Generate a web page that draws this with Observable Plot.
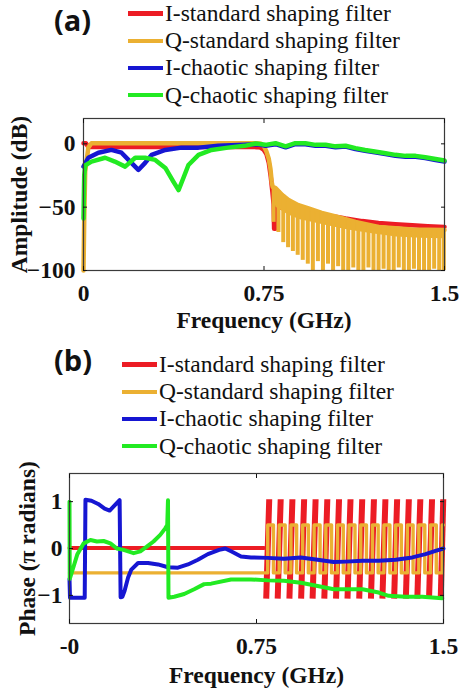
<!DOCTYPE html>
<html><head><meta charset="utf-8">
<script src="https://cdn.jsdelivr.net/npm/d3@7"></script>
<script src="https://cdn.jsdelivr.net/npm/@observablehq/plot@0.6"></script>
<style>
html,body{margin:0;padding:0;background:#fff;}
#root{position:relative;width:459px;height:691px;overflow:hidden;font-family:"Liberation Serif","Times New Roman",serif;}
.panel{position:absolute;left:0;}
.tag{position:absolute;font-family:"Open Sans",sans-serif;font-weight:700;font-size:29px;line-height:40px;color:#111;}
.legend{position:absolute;}
.row{display:flex;align-items:center;height:27.2px;font-size:23.5px;color:#111;white-space:nowrap;}
.sw{display:inline-block;width:35px;height:4.5px;margin-right:2px;}
</style></head>
<body><div id="root"></div>
<script>
// ---------- data ----------
const seriesNames = ["I-standard shaping filter", "Q-standard shaping filter", "I-chaotic shaping filter", "Q-chaotic shaping filter"];
const xTicks = [0, 0.75, 1.5];
const xTickLabelsA = ["0", "0.75", "1.5"];
const xTickLabelsB = ["-0", "0.75", "1.5"];
const yTicksA = [-100, -50, 0];
const yTicksB = [-1, 0, 1];

// (a) amplitude, [GHz, dB]
const ampIStd = [[0,0.5],[0.01,0.5],[0.02,-2.5],[0.2,-2.5],[0.4,-2.5],[0.6,-2.5],[0.72,-2.6],[0.735,-3],[0.748,-4.5],[0.76,-8],[0.77,-15],[0.778,-26],[0.785,-38],[0.79,-48],[0.792,-67],[0.797,-67],[0.80,-50],[0.85,-51],[0.92,-52],[0.99,-56],[1.06,-58],[1.089,-59],[1.158,-61],[1.226,-62.5],[1.296,-63.5],[1.366,-64.3],[1.43,-65],[1.5,-65.6]];
const ampQStd = [[0,-100],[0.003,-60],[0.007,-22],[0.02,-3],[0.033,0.5],[0.3,0.5],[0.6,0.5],[0.72,0.5],[0.738,0],[0.75,-2],[0.76,-6],[0.77,-12],[0.777,-20],[0.782,-30],[0.786,-34],[0.798,-35],[0.826,-40.5],[0.852,-44.4],[0.893,-48.4],[0.935,-51],[0.99,-54.5],[1.06,-58],[1.13,-61.7],[1.226,-65.6],[1.366,-67.7],[1.5,-68]];
// solid part of the Q-standard stop band: frequency, top, lower edge
const qStdBandF   = [0.786,0.80,0.85,0.90,0.95,1.00,1.10,1.20,1.30,1.40,1.50];
const qStdBandTop = [-34,-35.3,-44,-48.8,-52,-55,-60,-64,-66.6,-67.8,-68];
const qStdBandLow = [-40,-50,-56,-60,-62,-64,-68,-71,-73.5,-74.5,-75];
// comb notches of the Q-standard stop band: frequency, notch floor, envelope
const qStdNotchF   = [0.790,0.810,0.830,0.850,0.870,0.890,0.911,0.932,0.953,0.974,0.995,1.016,1.037,1.058,1.079,1.100,1.121,1.142,1.163,1.184,1.205,1.226,1.247,1.268,1.289,1.310,1.331,1.352,1.373,1.394,1.415,1.436,1.457,1.478,1.497];
const qStdNotchMin = [-62,-70,-78,-82,-85,-88,-92,-95,-100,-93,-100,-95,-100,-97,-100,-100,-98,-100,-100,-98,-100,-100,-99,-100,-100,-98,-100,-100,-99,-100,-100,-100,-99,-100,-100];
const qStdNotchTop = [-34,-37,-40.5,-43.5,-46,-48,-49.8,-51.3,-52.5,-53.7,-54.8,-55.8,-56.8,-57.7,-58.6,-59.5,-60.5,-61.3,-62.2,-63,-63.7,-64.4,-65,-65.6,-66.1,-66.5,-66.9,-67.2,-67.5,-67.7,-67.8,-68,-68,-68,-68];
const ampIChaos = [[0,-18],[0.02,-11],[0.062,-7],[0.116,-4.8],[0.158,-7],[0.194,-14],[0.228,-20.6],[0.256,-15],[0.283,-8.7],[0.34,-4.8],[0.407,-3],[0.478,-3],[0.56,-1.6],[0.67,-0.8],[0.727,-0.3],[0.756,-1.5],[0.798,-0.3],[0.84,-2.7],[0.88,-0.3],[0.922,-0.3],[0.964,-1.5],[1.006,-1.5],[1.047,-2.7],[1.089,-2.2],[1.13,-4.1],[1.17,-5.5],[1.21,-6.7],[1.255,-8.1],[1.296,-9.4],[1.338,-10.2],[1.38,-10.2],[1.42,-11.3],[1.463,-12.7],[1.5,-14]];
const ampQChaos = [[0,-59],[0.003,-25],[0.007,-17],[0.033,-14],[0.09,-11],[0.13,-14],[0.173,-18],[0.215,-11],[0.256,-11],[0.298,-12.7],[0.34,-19],[0.374,-30],[0.395,-36.5],[0.415,-27],[0.436,-16.7],[0.478,-8.7],[0.532,-4.8],[0.60,-3],[0.67,-1.6],[0.715,0.3],[0.756,-0.8],[0.798,0.5],[0.84,-2],[0.88,0.5],[0.922,0.5],[0.964,-0.8],[1.006,-0.8],[1.047,-2],[1.089,-1.5],[1.13,-3.4],[1.17,-4.8],[1.21,-6],[1.255,-7.4],[1.296,-8.7],[1.338,-9.5],[1.38,-9.5],[1.42,-10.6],[1.463,-12],[1.5,-13.2]];

// (b) phase, [GHz, pi rad]
const phIStd = [[0,0.01],[0.3,0.01],[0.6,0.01],[0.78,0.01]];
const phIStdBarLowF  = [0.789,0.835,0.882,0.929,0.975,1.022,1.069,1.115,1.162,1.209,1.255,1.302,1.349,1.395,1.442,1.489];
const phIStdBarHighF = [0.801,0.847,0.894,0.941,0.987,1.034,1.081,1.127,1.174,1.221,1.267,1.314,1.361,1.407,1.454,1.499];
const phQStd = [[0,-0.52],[0.795,-0.52],[0.795,0.5],[0.818,0.5],[0.818,-0.52],[0.841,-0.52],[0.841,0.5],[0.865,0.5],[0.865,-0.52],[0.888,-0.52],[0.888,0.5],[0.911,0.5],[0.911,-0.52],[0.935,-0.52],[0.935,0.5],[0.958,0.5],[0.958,-0.52],[0.981,-0.52],[0.981,0.5],[1.005,0.5],[1.005,-0.52],[1.028,-0.52],[1.028,0.5],[1.051,0.5],[1.051,-0.52],[1.075,-0.52],[1.075,0.5],[1.098,0.5],[1.098,-0.52],[1.121,-0.52],[1.121,0.5],[1.145,0.5],[1.145,-0.52],[1.168,-0.52],[1.168,0.5],[1.191,0.5],[1.191,-0.52],[1.215,-0.52],[1.215,0.5],[1.238,0.5],[1.238,-0.52],[1.261,-0.52],[1.261,0.5],[1.285,0.5],[1.285,-0.52],[1.308,-0.52],[1.308,0.5],[1.331,0.5],[1.331,-0.52],[1.355,-0.52],[1.355,0.5],[1.378,0.5],[1.378,-0.52],[1.401,-0.52],[1.401,0.5],[1.425,0.5],[1.425,-0.52],[1.448,-0.52],[1.448,0.5],[1.471,0.5],[1.471,-0.52],[1.495,-0.52],[1.495,0.5],[1.5,0.5]];
const phIChaos = [[0,-0.65],[0.002,-1.05],[0.035,-1.05],[0.061,-1.05],[0.064,1.04],[0.088,1.02],[0.115,0.95],[0.141,0.85],[0.161,0.81],[0.181,0.92],[0.201,1.03],[0.205,-1.04],[0.212,-1.03],[0.221,-0.9],[0.235,-0.62],[0.248,-0.45],[0.275,-0.31],[0.315,-0.31],[0.355,-0.34],[0.395,-0.4],[0.435,-0.41],[0.475,-0.34],[0.515,-0.24],[0.555,-0.12],[0.6,-0.03],[0.625,0.0],[0.648,-0.06],[0.688,-0.17],[0.728,-0.19],[0.795,-0.2],[0.86,-0.22],[0.928,-0.19],[0.995,-0.24],[1.06,-0.29],[1.108,-0.28],[1.175,-0.26],[1.24,-0.26],[1.308,-0.24],[1.375,-0.19],[1.428,-0.12],[1.468,-0.05],[1.5,0.0]];
const phQChaos = [[0,1.0],[0.001,-0.65],[0.011,-0.48],[0.031,-0.13],[0.057,0.11],[0.084,0.18],[0.11,0.15],[0.137,0.16],[0.164,0.11],[0.19,0.0],[0.217,-0.03],[0.257,-0.1],[0.284,-0.06],[0.31,0.04],[0.337,0.15],[0.364,0.29],[0.384,0.43],[0.392,0.5],[0.395,1.03],[0.397,-1.05],[0.42,-1.03],[0.46,-0.97],[0.5,-0.87],[0.54,-0.76],[0.568,-0.75],[0.648,-0.66],[0.728,-0.66],[0.795,-0.68],[0.86,-0.69],[0.928,-0.73],[0.995,-0.8],[1.06,-0.87],[1.108,-0.87],[1.175,-0.87],[1.24,-0.94],[1.28,-1.01],[1.348,-1.03],[1.415,-1.03],[1.495,-1.06]];

// ---------- style ----------
const COLORS = ["#ec1c24", "#ebb032", "#1616d2", "#22ea22"];
const FONT = "'Liberation Serif','Times New Roman',serif";
const fx = d => d[0], fy = d => d[1];

function frameAxes(xLabels, yTicks, yLabel, xLabelOffset, yLabelOffset, yPad) {
  return [
    Plot.frame({stroke: "#3a3a3a", strokeWidth: 1.2}),
    Plot.axisX(xTicks, {anchor: "bottom", tickSize: 4, dy: -4, fill: "none", label: null}),
    Plot.axisX(xTicks, {anchor: "top", tickSize: 4, dy: 4, fill: "none", label: null}),
    Plot.axisY(yTicks, {anchor: "left", tickSize: 4, dx: 4, fill: "none", label: null}),
    Plot.axisY(yTicks, {anchor: "right", tickSize: 4, dx: -4, fill: "none", label: null}),
    Plot.axisX(xTicks, {anchor: "bottom", tickSize: 0, tickPadding: 14, fill: "#111",
      tickFormat: d => xLabels[xTicks.indexOf(d)],
      label: "Frequency (GHz)", labelAnchor: "center", labelArrow: "none", labelOffset: xLabelOffset}),
    Plot.axisY(yTicks, {anchor: "left", tickSize: 0, tickPadding: yPad, fill: "#111",
      label: yLabel, labelAnchor: "center", labelArrow: "none", labelOffset: yLabelOffset})
  ];
}

const plotA = Plot.plot({
  width: 459, height: 240,
  marginLeft: 83, marginRight: 15, marginTop: 18, marginBottom: 70,
  style: {fontFamily: FONT, fontWeight: "bold", fontSize: "23.5px", background: "transparent", color: "#111"},
  x: {domain: [0, 1.5]},
  y: {domain: [-100, 20]},
  marks: [
    Plot.line(ampIStd, {x: fx, y: fy, stroke: COLORS[0], strokeWidth: 4.5}),
    Plot.areaY(qStdBandF, {x: d => d, y1: (d, i) => qStdBandLow[i], y2: (d, i) => qStdBandTop[i], fill: COLORS[1]}),
    Plot.line(ampQStd, {x: fx, y: fy, stroke: COLORS[1], strokeWidth: 4.5}),
    Plot.ruleX(qStdNotchF, {x: d => d, y1: (d, i) => qStdNotchMin[i], y2: (d, i) => qStdNotchTop[i], stroke: COLORS[1], strokeWidth: 4}),
    Plot.line(ampIChaos, {x: fx, y: fy, stroke: COLORS[2], strokeWidth: 4.5}),
    Plot.line(ampQChaos, {x: fx, y: fy, stroke: COLORS[3], strokeWidth: 4.5}),
    ...frameAxes(xTickLabelsA, yTicksA, "Amplitude (dB)", 57, 73, 8)
  ]
});

const plotB = Plot.plot({
  width: 459, height: 251,
  marginLeft: 69, marginRight: 16, marginTop: 33, marginBottom: 68,
  style: {fontFamily: FONT, fontWeight: "bold", fontSize: "23.5px", background: "transparent", color: "#111"},
  x: {domain: [0, 1.5]},
  y: {domain: [-1.6, 1.6]},
  marks: [
    Plot.line(phIStd, {x: fx, y: fy, stroke: COLORS[0], strokeWidth: 4}),
    Plot.link(phIStdBarLowF, {x1: d => d, x2: (d, i) => phIStdBarHighF[i], y1: -1.07, y2: 1.05, stroke: COLORS[0], strokeWidth: 6}),
    Plot.line(phQStd, {x: fx, y: fy, stroke: COLORS[1], strokeWidth: 3.4, strokeLinejoin: "round"}),
    Plot.line(phIChaos, {x: fx, y: fy, stroke: COLORS[2], strokeWidth: 4}),
    Plot.line(phQChaos, {x: fx, y: fy, stroke: COLORS[3], strokeWidth: 4}),
    ...frameAxes(xTickLabelsB, yTicksB, "Phase (π radians)", 59, 51, 7)
  ]
});

const root = document.getElementById("root");
function place(el, top) { el.classList.add("panel"); el.style.top = top + "px"; root.appendChild(el); }
place(plotA, 100);
place(plotB, 440);

function tag(text, left, top) {
  const d = document.createElement("div");
  d.className = "tag"; d.textContent = text;
  d.style.left = left + "px"; d.style.top = top + "px";
  root.appendChild(d);
}
function legend(left, top) {
  const box = document.createElement("div");
  box.className = "legend"; box.style.left = left + "px"; box.style.top = top + "px";
  seriesNames.forEach((name, i) => {
    const row = document.createElement("div"); row.className = "row";
    const sw = document.createElement("span"); sw.className = "sw"; sw.style.background = COLORS[i];
    const tx = document.createElement("span"); tx.textContent = name;
    row.appendChild(sw); row.appendChild(tx); box.appendChild(row);
  });
  root.appendChild(box);
}
tag("(a)", 54, 0);
legend(128, 0);
tag("(b)", 54, 340);
legend(122, 351);
</script></body></html>
